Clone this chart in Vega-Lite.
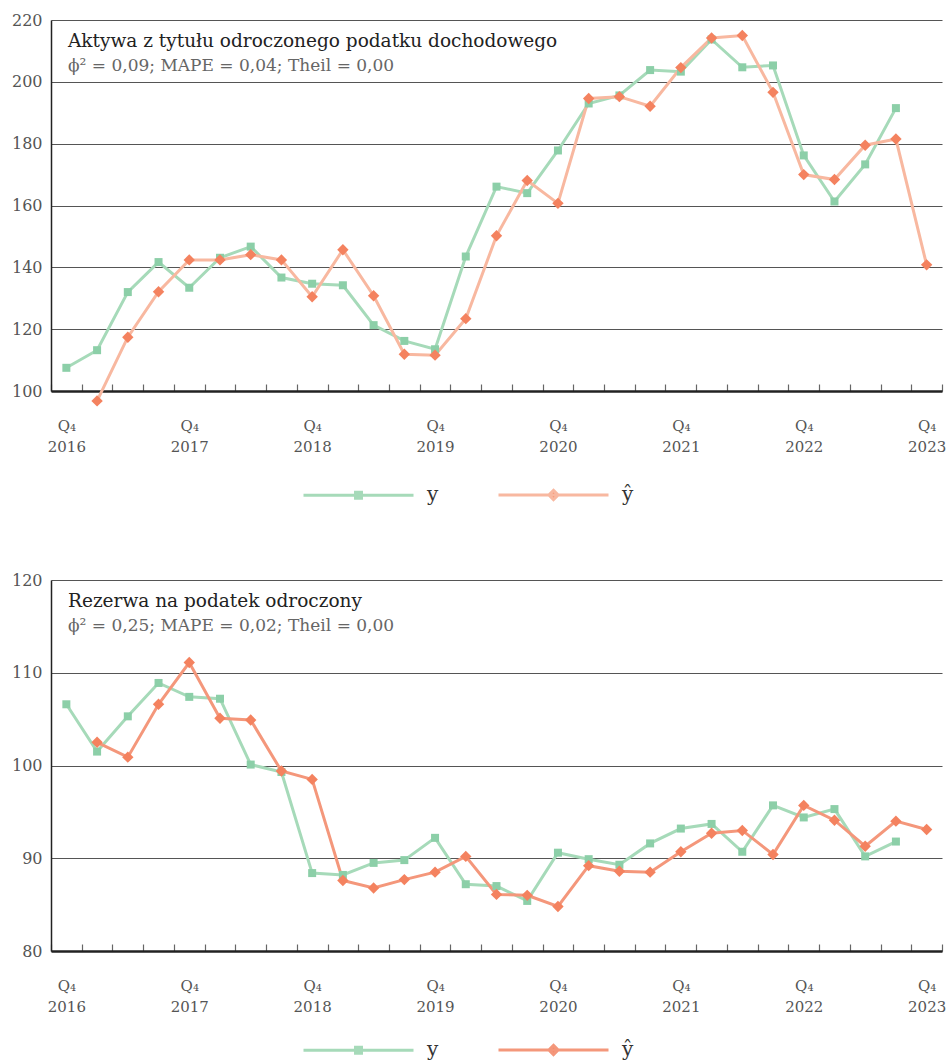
{
  "$schema": "https://vega.github.io/schema/vega-lite/v6.json",
  "padding": {"left": 11, "top": 12, "right": 5, "bottom": 0},
  "background": "white",
  "spacing": 66,
  "datasets": {
    "top": [
      {"p": "2016-Q4", "s": "y", "v": 107.5}, {"p": "2017-Q1", "s": "y", "v": 113.2}, {"p": "2017-Q2", "s": "y", "v": 132.0}, {"p": "2017-Q3", "s": "y", "v": 141.7},
      {"p": "2017-Q4", "s": "y", "v": 133.4}, {"p": "2018-Q1", "s": "y", "v": 143.1}, {"p": "2018-Q2", "s": "y", "v": 146.7}, {"p": "2018-Q3", "s": "y", "v": 136.7},
      {"p": "2018-Q4", "s": "y", "v": 134.7}, {"p": "2019-Q1", "s": "y", "v": 134.2}, {"p": "2019-Q2", "s": "y", "v": 121.3}, {"p": "2019-Q3", "s": "y", "v": 116.2},
      {"p": "2019-Q4", "s": "y", "v": 113.5}, {"p": "2020-Q1", "s": "y", "v": 143.5}, {"p": "2020-Q2", "s": "y", "v": 166.1}, {"p": "2020-Q3", "s": "y", "v": 164.0},
      {"p": "2020-Q4", "s": "y", "v": 177.8}, {"p": "2021-Q1", "s": "y", "v": 193.0}, {"p": "2021-Q2", "s": "y", "v": 195.6}, {"p": "2021-Q3", "s": "y", "v": 203.8},
      {"p": "2021-Q4", "s": "y", "v": 203.3}, {"p": "2022-Q1", "s": "y", "v": 213.7}, {"p": "2022-Q2", "s": "y", "v": 204.7}, {"p": "2022-Q3", "s": "y", "v": 205.3},
      {"p": "2022-Q4", "s": "y", "v": 176.2}, {"p": "2023-Q1", "s": "y", "v": 161.3}, {"p": "2023-Q2", "s": "y", "v": 173.3}, {"p": "2023-Q3", "s": "y", "v": 191.5},
      {"p": "2017-Q1", "s": "ŷ", "v": 96.8}, {"p": "2017-Q2", "s": "ŷ", "v": 117.4}, {"p": "2017-Q3", "s": "ŷ", "v": 132.1},
      {"p": "2017-Q4", "s": "ŷ", "v": 142.4}, {"p": "2018-Q1", "s": "ŷ", "v": 142.4}, {"p": "2018-Q2", "s": "ŷ", "v": 144.1}, {"p": "2018-Q3", "s": "ŷ", "v": 142.4},
      {"p": "2018-Q4", "s": "ŷ", "v": 130.5}, {"p": "2019-Q1", "s": "ŷ", "v": 145.7}, {"p": "2019-Q2", "s": "ŷ", "v": 130.8}, {"p": "2019-Q3", "s": "ŷ", "v": 111.9},
      {"p": "2019-Q4", "s": "ŷ", "v": 111.6}, {"p": "2020-Q1", "s": "ŷ", "v": 123.4}, {"p": "2020-Q2", "s": "ŷ", "v": 150.2}, {"p": "2020-Q3", "s": "ŷ", "v": 168.1},
      {"p": "2020-Q4", "s": "ŷ", "v": 160.7}, {"p": "2021-Q1", "s": "ŷ", "v": 194.6}, {"p": "2021-Q2", "s": "ŷ", "v": 195.2}, {"p": "2021-Q3", "s": "ŷ", "v": 192.1},
      {"p": "2021-Q4", "s": "ŷ", "v": 204.6}, {"p": "2022-Q1", "s": "ŷ", "v": 214.2}, {"p": "2022-Q2", "s": "ŷ", "v": 215.0}, {"p": "2022-Q3", "s": "ŷ", "v": 196.6},
      {"p": "2022-Q4", "s": "ŷ", "v": 170.0}, {"p": "2023-Q1", "s": "ŷ", "v": 168.4}, {"p": "2023-Q2", "s": "ŷ", "v": 179.5}, {"p": "2023-Q3", "s": "ŷ", "v": 181.5},
      {"p": "2023-Q4", "s": "ŷ", "v": 140.8}
    ],
    "bottom": [
      {"p": "2016-Q4", "s": "y", "v": 106.6}, {"p": "2017-Q1", "s": "y", "v": 101.5}, {"p": "2017-Q2", "s": "y", "v": 105.3}, {"p": "2017-Q3", "s": "y", "v": 108.9},
      {"p": "2017-Q4", "s": "y", "v": 107.4}, {"p": "2018-Q1", "s": "y", "v": 107.2}, {"p": "2018-Q2", "s": "y", "v": 100.1}, {"p": "2018-Q3", "s": "y", "v": 99.3},
      {"p": "2018-Q4", "s": "y", "v": 88.4}, {"p": "2019-Q1", "s": "y", "v": 88.2}, {"p": "2019-Q2", "s": "y", "v": 89.5}, {"p": "2019-Q3", "s": "y", "v": 89.8},
      {"p": "2019-Q4", "s": "y", "v": 92.2}, {"p": "2020-Q1", "s": "y", "v": 87.2}, {"p": "2020-Q2", "s": "y", "v": 87.0}, {"p": "2020-Q3", "s": "y", "v": 85.4},
      {"p": "2020-Q4", "s": "y", "v": 90.6}, {"p": "2021-Q1", "s": "y", "v": 89.9}, {"p": "2021-Q2", "s": "y", "v": 89.3}, {"p": "2021-Q3", "s": "y", "v": 91.6},
      {"p": "2021-Q4", "s": "y", "v": 93.2}, {"p": "2022-Q1", "s": "y", "v": 93.7}, {"p": "2022-Q2", "s": "y", "v": 90.7}, {"p": "2022-Q3", "s": "y", "v": 95.7},
      {"p": "2022-Q4", "s": "y", "v": 94.4}, {"p": "2023-Q1", "s": "y", "v": 95.3}, {"p": "2023-Q2", "s": "y", "v": 90.2}, {"p": "2023-Q3", "s": "y", "v": 91.8},
      {"p": "2017-Q1", "s": "ŷ", "v": 102.5}, {"p": "2017-Q2", "s": "ŷ", "v": 100.9}, {"p": "2017-Q3", "s": "ŷ", "v": 106.6},
      {"p": "2017-Q4", "s": "ŷ", "v": 111.1}, {"p": "2018-Q1", "s": "ŷ", "v": 105.1}, {"p": "2018-Q2", "s": "ŷ", "v": 104.9}, {"p": "2018-Q3", "s": "ŷ", "v": 99.4},
      {"p": "2018-Q4", "s": "ŷ", "v": 98.5}, {"p": "2019-Q1", "s": "ŷ", "v": 87.6}, {"p": "2019-Q2", "s": "ŷ", "v": 86.8}, {"p": "2019-Q3", "s": "ŷ", "v": 87.7},
      {"p": "2019-Q4", "s": "ŷ", "v": 88.5}, {"p": "2020-Q1", "s": "ŷ", "v": 90.2}, {"p": "2020-Q2", "s": "ŷ", "v": 86.1}, {"p": "2020-Q3", "s": "ŷ", "v": 86.0},
      {"p": "2020-Q4", "s": "ŷ", "v": 84.8}, {"p": "2021-Q1", "s": "ŷ", "v": 89.2}, {"p": "2021-Q2", "s": "ŷ", "v": 88.6}, {"p": "2021-Q3", "s": "ŷ", "v": 88.5},
      {"p": "2021-Q4", "s": "ŷ", "v": 90.7}, {"p": "2022-Q1", "s": "ŷ", "v": 92.7}, {"p": "2022-Q2", "s": "ŷ", "v": 93.0}, {"p": "2022-Q3", "s": "ŷ", "v": 90.4},
      {"p": "2022-Q4", "s": "ŷ", "v": 95.7}, {"p": "2023-Q1", "s": "ŷ", "v": 94.1}, {"p": "2023-Q2", "s": "ŷ", "v": 91.3}, {"p": "2023-Q3", "s": "ŷ", "v": 94.0},
      {"p": "2023-Q4", "s": "ŷ", "v": 93.1}
    ]
  },
  "vconcat": [
    {
      "width": 891,
      "height": 371,
      "data": {"name": "top"},
      "title": {
        "text": "Aktywa z tytułu odroczonego podatku dochodowego",
        "subtitle": "ϕ² = 0,09; MAPE = 0,04; Theil = 0,00",
        "anchor": "start", "frame": "group", "orient": "top", "offset": -62, "dx": 17
      },
      "encoding": {
        "x": {"field": "p", "type": "ordinal", "scale": {"type": "band", "paddingInner": 0, "paddingOuter": 0},
              "axis": {"title": null, "tickBand": "extent", "tickSize": -7, "tickColor": "#666", "tickWidth": 1.2, "domainColor": "#222", "domainWidth": 2.5,
                       "labelAngle": 0, "labelOverlap": false, "labelPadding": 34, "labelLineHeight": 21.5, "labelFontSize": 15, "labelColor": "#555",
                       "labelExpr": "indexof(datum.label,'Q4') > 0 ? ['Q₄', substring(datum.label,0,4)] : ''"}},
        "y": {"field": "v", "type": "quantitative", "scale": {"domain": [100, 220], "nice": false, "zero": false},
              "axis": {"title": null, "values": [100, 120, 140, 160, 180, 200, 220], "grid": true, "gridColor": "#555", "gridWidth": 1.2, "domainColor": "#222", "domainWidth": 1.5,
                       "ticks": false, "labelPadding": 9, "minExtent": 40, "maxExtent": 40, "labelFontSize": 16, "labelColor": "#555"}}
      },
      "layer": [
        {"mark": {"type": "line", "strokeWidth": 3},
         "encoding": {"stroke": {"field": "s", "type": "nominal", "scale": {"domain": ["y", "ŷ"], "range": ["#a6dab9", "#f8b8a0"]}}}},
        {"mark": {"type": "point", "filled": true, "opacity": 1},
         "encoding": {
           "color": {"field": "s", "type": "nominal", "scale": {"domain": ["y", "ŷ"], "range": ["#8ccfa8", "#f4825f"]},
             "legend": {"orient": "none", "legendX": 251, "legendY": 462, "direction": "horizontal", "title": null, "symbolSize": 484, "symbolStrokeWidth": 3,
                        "labelFontSize": 20, "labelColor": "#333", "labelOffset": 100, "columnPadding": 53, "symbolOpacity": 1,
                        "encode": {"symbols": {"update": {
                          "shape": {"signal": "datum.value==='y' ? 'M-1,0H9M3.73,-0.27H4.27V0.27H3.73Z' : 'M-1,0H9M4,-0.42L4.42,0L4,0.42L3.58,0Z'"},
                          "strokeWidth": {"value": 3},
                          "size": {"value": 484}}}}}},
           "shape": {"field": "s", "type": "nominal", "scale": {"domain": ["ŷ", "y"], "range": ["diamond", "square"]}, "legend": null},
           "size": {"condition": {"test": "datum.s==='y'", "value": 64}, "value": 130}
         }}
      ]
    },
    {
      "width": 891,
      "height": 371,
      "data": {"name": "bottom"},
      "title": {
        "text": "Rezerwa na podatek odroczony",
        "subtitle": "ϕ² = 0,25; MAPE = 0,02; Theil = 0,00",
        "anchor": "start", "frame": "group", "orient": "top", "offset": -62, "dx": 17
      },
      "encoding": {
        "x": {"field": "p", "type": "ordinal", "scale": {"type": "band", "paddingInner": 0, "paddingOuter": 0},
              "axis": {"title": null, "tickBand": "extent", "tickSize": -7, "tickColor": "#666", "tickWidth": 1.2, "domainColor": "#222", "domainWidth": 2.5,
                       "labelAngle": 0, "labelOverlap": false, "labelPadding": 34, "labelLineHeight": 21.5, "labelFontSize": 15, "labelColor": "#555",
                       "labelExpr": "indexof(datum.label,'Q4') > 0 ? ['Q₄', substring(datum.label,0,4)] : ''"}},
        "y": {"field": "v", "type": "quantitative", "scale": {"domain": [80, 120], "nice": false, "zero": false},
              "axis": {"title": null, "values": [80, 90, 100, 110, 120], "grid": true, "gridColor": "#555", "gridWidth": 1.2, "domainColor": "#222", "domainWidth": 1.5,
                       "ticks": false, "labelPadding": 9, "minExtent": 40, "maxExtent": 40, "labelFontSize": 16, "labelColor": "#555"}}
      },
      "layer": [
        {"mark": {"type": "line", "strokeWidth": 3},
         "encoding": {"stroke": {"field": "s", "type": "nominal", "scale": {"domain": ["y", "ŷ"], "range": ["#a6dab9", "#f4977b"]}}}},
        {"mark": {"type": "point", "filled": true, "opacity": 1},
         "encoding": {
           "color": {"field": "s", "type": "nominal", "scale": {"domain": ["y", "ŷ"], "range": ["#8ccfa8", "#f4825f"]},
             "legend": {"orient": "none", "legendX": 251, "legendY": 457, "direction": "horizontal", "title": null, "symbolSize": 484, "symbolStrokeWidth": 3,
                        "labelFontSize": 20, "labelColor": "#333", "labelOffset": 100, "columnPadding": 53, "symbolOpacity": 1,
                        "encode": {"symbols": {"update": {
                          "shape": {"signal": "datum.value==='y' ? 'M-1,0H9M3.73,-0.27H4.27V0.27H3.73Z' : 'M-1,0H9M4,-0.42L4.42,0L4,0.42L3.58,0Z'"},
                          "strokeWidth": {"value": 3},
                          "size": {"value": 484}}}}}},
           "shape": {"field": "s", "type": "nominal", "scale": {"domain": ["ŷ", "y"], "range": ["diamond", "square"]}, "legend": null},
           "size": {"condition": {"test": "datum.s==='y'", "value": 64}, "value": 130}
         }}
      ]
    }
  ],
  "resolve": {"legend": {"color": "independent", "shape": "independent", "stroke": "independent"}, "scale": {"color": "independent", "shape": "independent", "stroke": "independent"}},
  "config": {
    "font": "DejaVu Serif",
    "view": {"stroke": null},
    "axis": {"labelFont": "DejaVu Serif"},
    "legend": {"labelFont": "DejaVu Serif"},
    "title": {"font": "DejaVu Serif", "fontSize": 18.5, "fontWeight": "normal", "color": "#222", "subtitleFont": "DejaVu Serif", "subtitleFontSize": 17, "subtitleColor": "#666", "subtitlePadding": 8}
  }
}
